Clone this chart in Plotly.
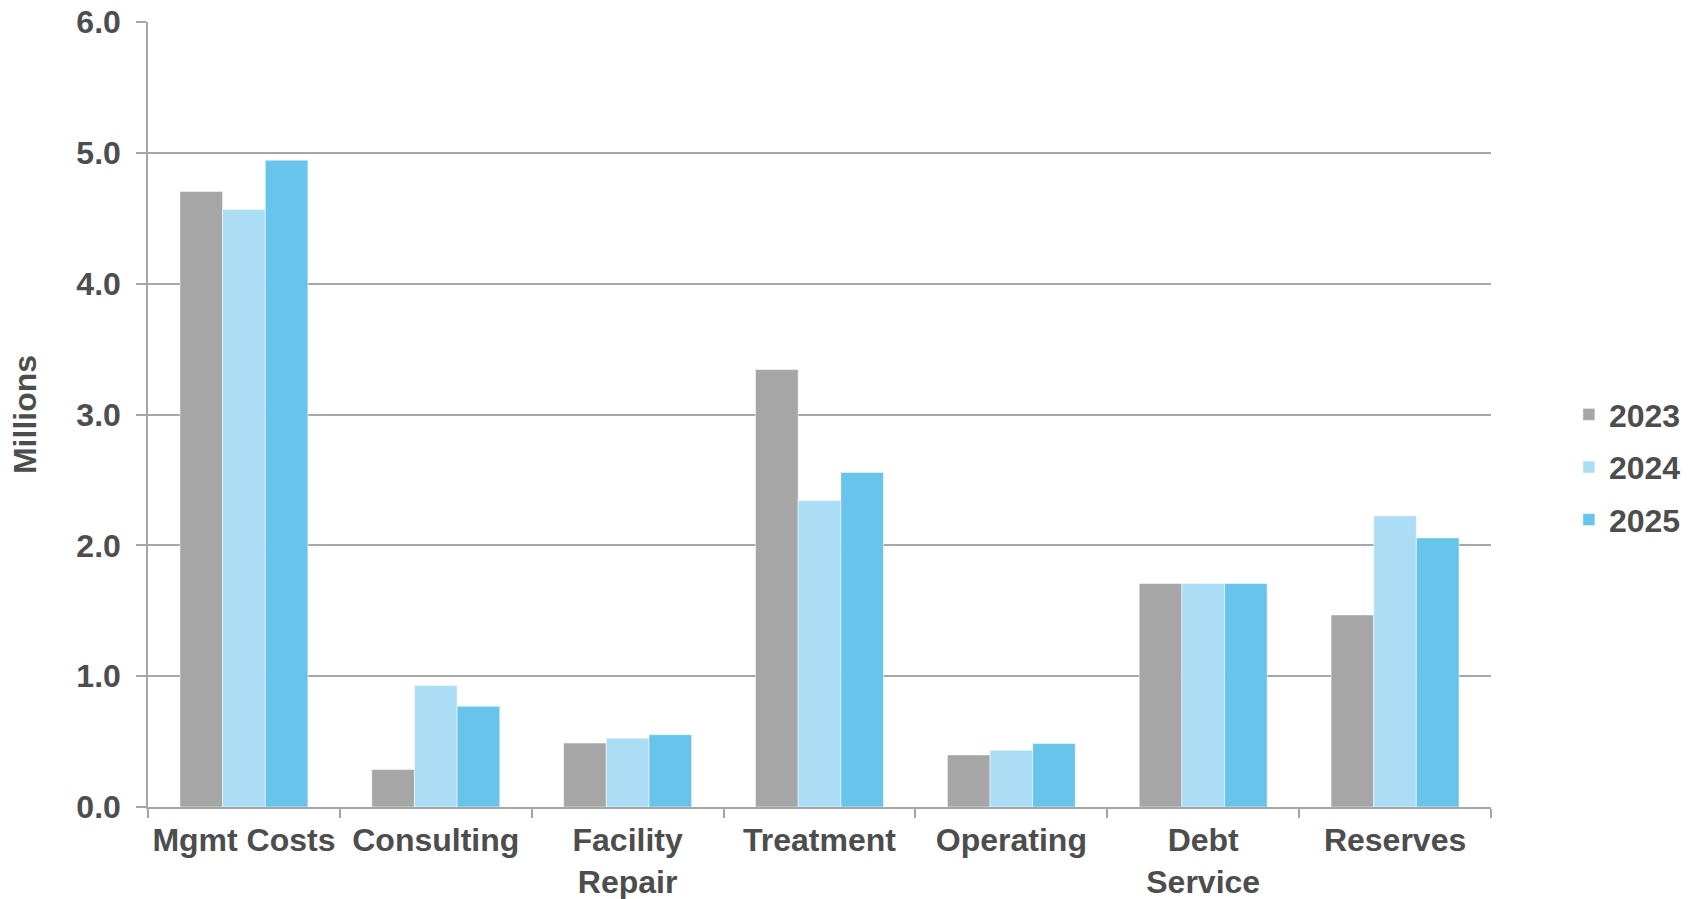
import plotly.graph_objects as go

categories = ["Mgmt Costs", "Consulting", "Facility<br>Repair", "Treatment", "Operating", "Debt<br>Service", "Reserves"]
years = ["2023", "2024", "2025"]
values_2023 = [4.705, 0.286, 0.489, 3.344, 0.398, 1.708, 1.468]
values_2024 = [4.567, 0.928, 0.525, 2.343, 0.434, 1.708, 2.225]
values_2025 = [4.944, 0.770, 0.553, 2.557, 0.485, 1.708, 2.057]
colors = ["#a6a6a6", "#abdef4", "#69c4ec"]
y_ticks = [0, 1, 2, 3, 4, 5, 6]
y_ticklabels = ["0.0", "1.0", "2.0", "3.0", "4.0", "5.0", "6.0"]

series = [values_2023, values_2024, values_2025]

fig = go.Figure()
for name, vals, col in zip(years, series, colors):
    fig.add_trace(go.Bar(
        x=categories, y=vals, name=name, legendgroup=name,
        marker=dict(color=col, line=dict(color="rgba(255,255,255,0.5)", width=1)),
    ))

TEXT = "#4d4d4d"
GRID = "#a6a6a6"
FS = 32

fig.update_layout(
    width=1696, height=899,
    margin=dict(l=148, r=205, t=22, b=92, autoexpand=False),
    paper_bgcolor="white", plot_bgcolor="white",
    barmode="group", bargap=0.333, bargroupgap=0,
    font=dict(family="Liberation Sans, Arial, sans-serif", size=FS, color=TEXT, weight="bold"),
    legend=dict(
        x=1.058, xanchor="left", y=0.433, yanchor="middle",
        font=dict(size=FS, color=TEXT, weight="bold"),
        tracegroupgap=8, itemwidth=30,
    ),
    xaxis=dict(
        automargin=False, tickangle=0,
        showline=True, linecolor=GRID, linewidth=1.5,
        ticks="outside", tickson="boundaries", ticklen=9, tickcolor=GRID, tickwidth=1.5,
        showgrid=False, ticklabelstandoff=4,
        tickfont=dict(size=FS, color=TEXT, weight="bold"),
    ),
    yaxis=dict(
        automargin=False,
        range=[0, 6], tickvals=y_ticks, ticktext=y_ticklabels,
        showline=True, linecolor=GRID, linewidth=1.5,
        ticks="outside", ticklen=10, tickcolor=GRID, tickwidth=1.5,
        showgrid=True, gridcolor=GRID, gridwidth=1.5,
        zeroline=False, ticklabelstandoff=9,
        tickfont=dict(size=FS, color=TEXT, weight="bold"),
        title=dict(text="Millions", font=dict(size=FS, color=TEXT, weight="bold"), standoff=30),
    ),
)

fig.write_html("out.html")
